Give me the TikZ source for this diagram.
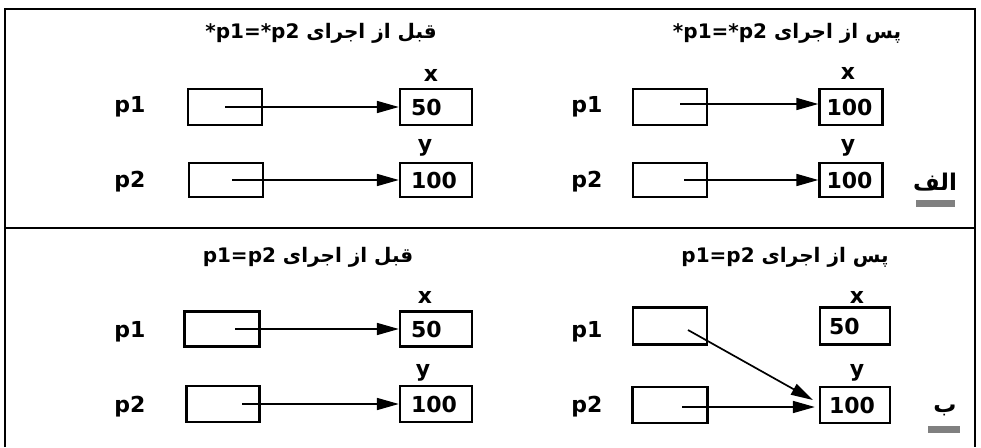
\documentclass[tikz,border=0pt]{standalone}
\usepackage{fontspec}
\setmainfont{DejaVu Sans}
\newfontfamily\arabicfont[Script=Arabic]{DejaVu Sans}
\TeXXeTstate=1
\usetikzlibrary{arrows.meta,calc}
\tikzset{
  frameline/.style={line width=2.8pt},
  ptrbox/.style={draw, line width=2.3pt, minimum width=74pt, minimum height=36pt, inner sep=0pt},
  valbox/.style={draw, line width=2.3pt, minimum height=36pt, inner ysep=0pt, align=left,
    font=\fontsize{22}{24}\selectfont\bfseries},
  lbl/.style={font=\fontsize{22}{24}\selectfont\bfseries, inner sep=0pt},
  ttl/.style={font=\arabicfont\fontsize{20}{24}\selectfont\bfseries, inner sep=0pt},
  tag/.style={font=\arabicfont\fontsize{23}{24}\selectfont\bfseries, inner sep=0pt, anchor=base},
  tagbar/.style={fill=black!50, draw=none, minimum height=7pt, inner sep=0pt},
  ptr/.style={line width=1.7pt, -{Triangle[length=22pt,width=12pt]}},
}
\begin{document}
\begin{tikzpicture}[x=1pt,y=-1pt]
\useasboundingbox (0,0) rectangle (981,447);
% frame
\coordinate (f1) at (5,447);
\coordinate (f2) at (5,9);
\coordinate (f3) at (975,9);
\coordinate (f4) at (975,447);
\coordinate (d1) at (5,228);
\coordinate (d2) at (975,228);
\draw[frameline] (f1) -- (f2) -- (f3) -- (f4);
\draw[frameline] (d1) -- (d2);

% ---------- top-left ----------
\node[ttl] (tlT) at (321,33) {\beginR قبل از اجرای \beginL*p1=*p2\endL\endR};
\node[lbl] (tlx) at (431,75) {x};
\node[lbl] (tly) at (425,148) {y};
\node[lbl] (tlp1) at (130,107) {p1};
\node[lbl] (tlp2) at (130,182) {p2};
\node[ptrbox] (tlP1) at (225,107) {};
\node[ptrbox, minimum height=34pt] (tlP2) at (226,180) {};
\node[valbox, text width=50pt, inner xsep=11pt] (tlX) at (436,107) {50};
\node[valbox, text width=50pt, inner xsep=11pt, minimum height=34pt] (tlY) at (436,180) {100};
\draw[ptr] (tlP1.center) -- (tlX.west);
\draw[ptr] ($(tlP2.center)+(6,0)$) -- (tlY.west);

% ---------- top-right ----------
\node[ttl] (trT) at (787,33) {\beginR پس از اجرای \beginL*p1=*p2\endL\endR};
\node[lbl] (trx) at (848,73) {x};
\node[lbl] (try) at (848,148) {y};
\node[lbl] (trp1) at (587,107) {p1};
\node[lbl] (trp2) at (587,182) {p2};
\node[ptrbox] (trP1) at (670,107) {};
\node[ptrbox, minimum height=34pt] (trP2) at (670,180) {};
\node[valbox, text width=49pt, inner xsep=7pt] (trX) at (851,107) {100};
\node[valbox, text width=49pt, inner xsep=7pt, minimum height=34pt] (trY) at (851,180) {100};
\draw[ptr] ($(trP1.center)+(10,-3)$) -- ($(trX.west)+(0,-3)$);
\draw[ptr] ($(trP2.center)+(14,0)$) -- (trY.west);
\node[tag] (alef) at (935,190) {\beginR الف\endR};
\node[tagbar, minimum width=39pt] (alefbar) at (935.5,203.5) {};

% ---------- bottom-left ----------
\node[ttl] (blT) at (308,257) {\beginR قبل از اجرای \beginL p1=p2\endL\endR};
\node[lbl] (blx) at (425,297) {x};
\node[lbl] (bly) at (423,373) {y};
\node[lbl] (blp1) at (130,332) {p1};
\node[lbl] (blp2) at (130,407) {p2};
\node[ptrbox, minimum width=75pt, minimum height=35pt] (blP1) at (222,329) {};
\node[ptrbox, minimum width=73pt] (blP2) at (223,404) {};
\node[valbox, text width=50pt, inner xsep=11pt, minimum height=35pt] (blX) at (436,329) {50};
\node[valbox, text width=50pt, inner xsep=11pt] (blY) at (436,404) {100};
\draw[ptr] ($(blP1.center)+(13,0)$) -- (blX.west);
\draw[ptr] ($(blP2.center)+(19,0)$) -- (blY.west);

% ---------- bottom-right ----------
\node[ttl] (brT) at (785,257) {\beginR پس از اجرای \beginL p1=p2\endL\endR};
\node[lbl] (brx) at (857,297) {x};
\node[lbl] (bry) at (857,373) {y};
\node[lbl] (brp1) at (587,332) {p1};
\node[lbl] (brp2) at (587,407) {p2};
\node[ptrbox, minimum height=37pt] (brP1) at (670,326) {};
\node[ptrbox, minimum width=75pt] (brP2) at (670,405) {};
\node[valbox, text width=52pt, inner xsep=9pt, minimum height=37pt] (brX) at (855,326) {50};
\node[valbox, text width=52pt, inner xsep=9pt] (brY) at (855,405) {100};
\draw[ptr] ($(brP1.center)+(18,4)$) -- ($(brY.west)+(-6,-5)$);
\draw[ptr] ($(brP2.center)+(12,2)$) -- ($(brY.west)+(-4,2)$);
\node[tag] (be) at (945,412) {\beginR ب\endR};
\node[tagbar, minimum width=32pt] (bebar) at (944,429) {};
\end{tikzpicture}
\end{document}
